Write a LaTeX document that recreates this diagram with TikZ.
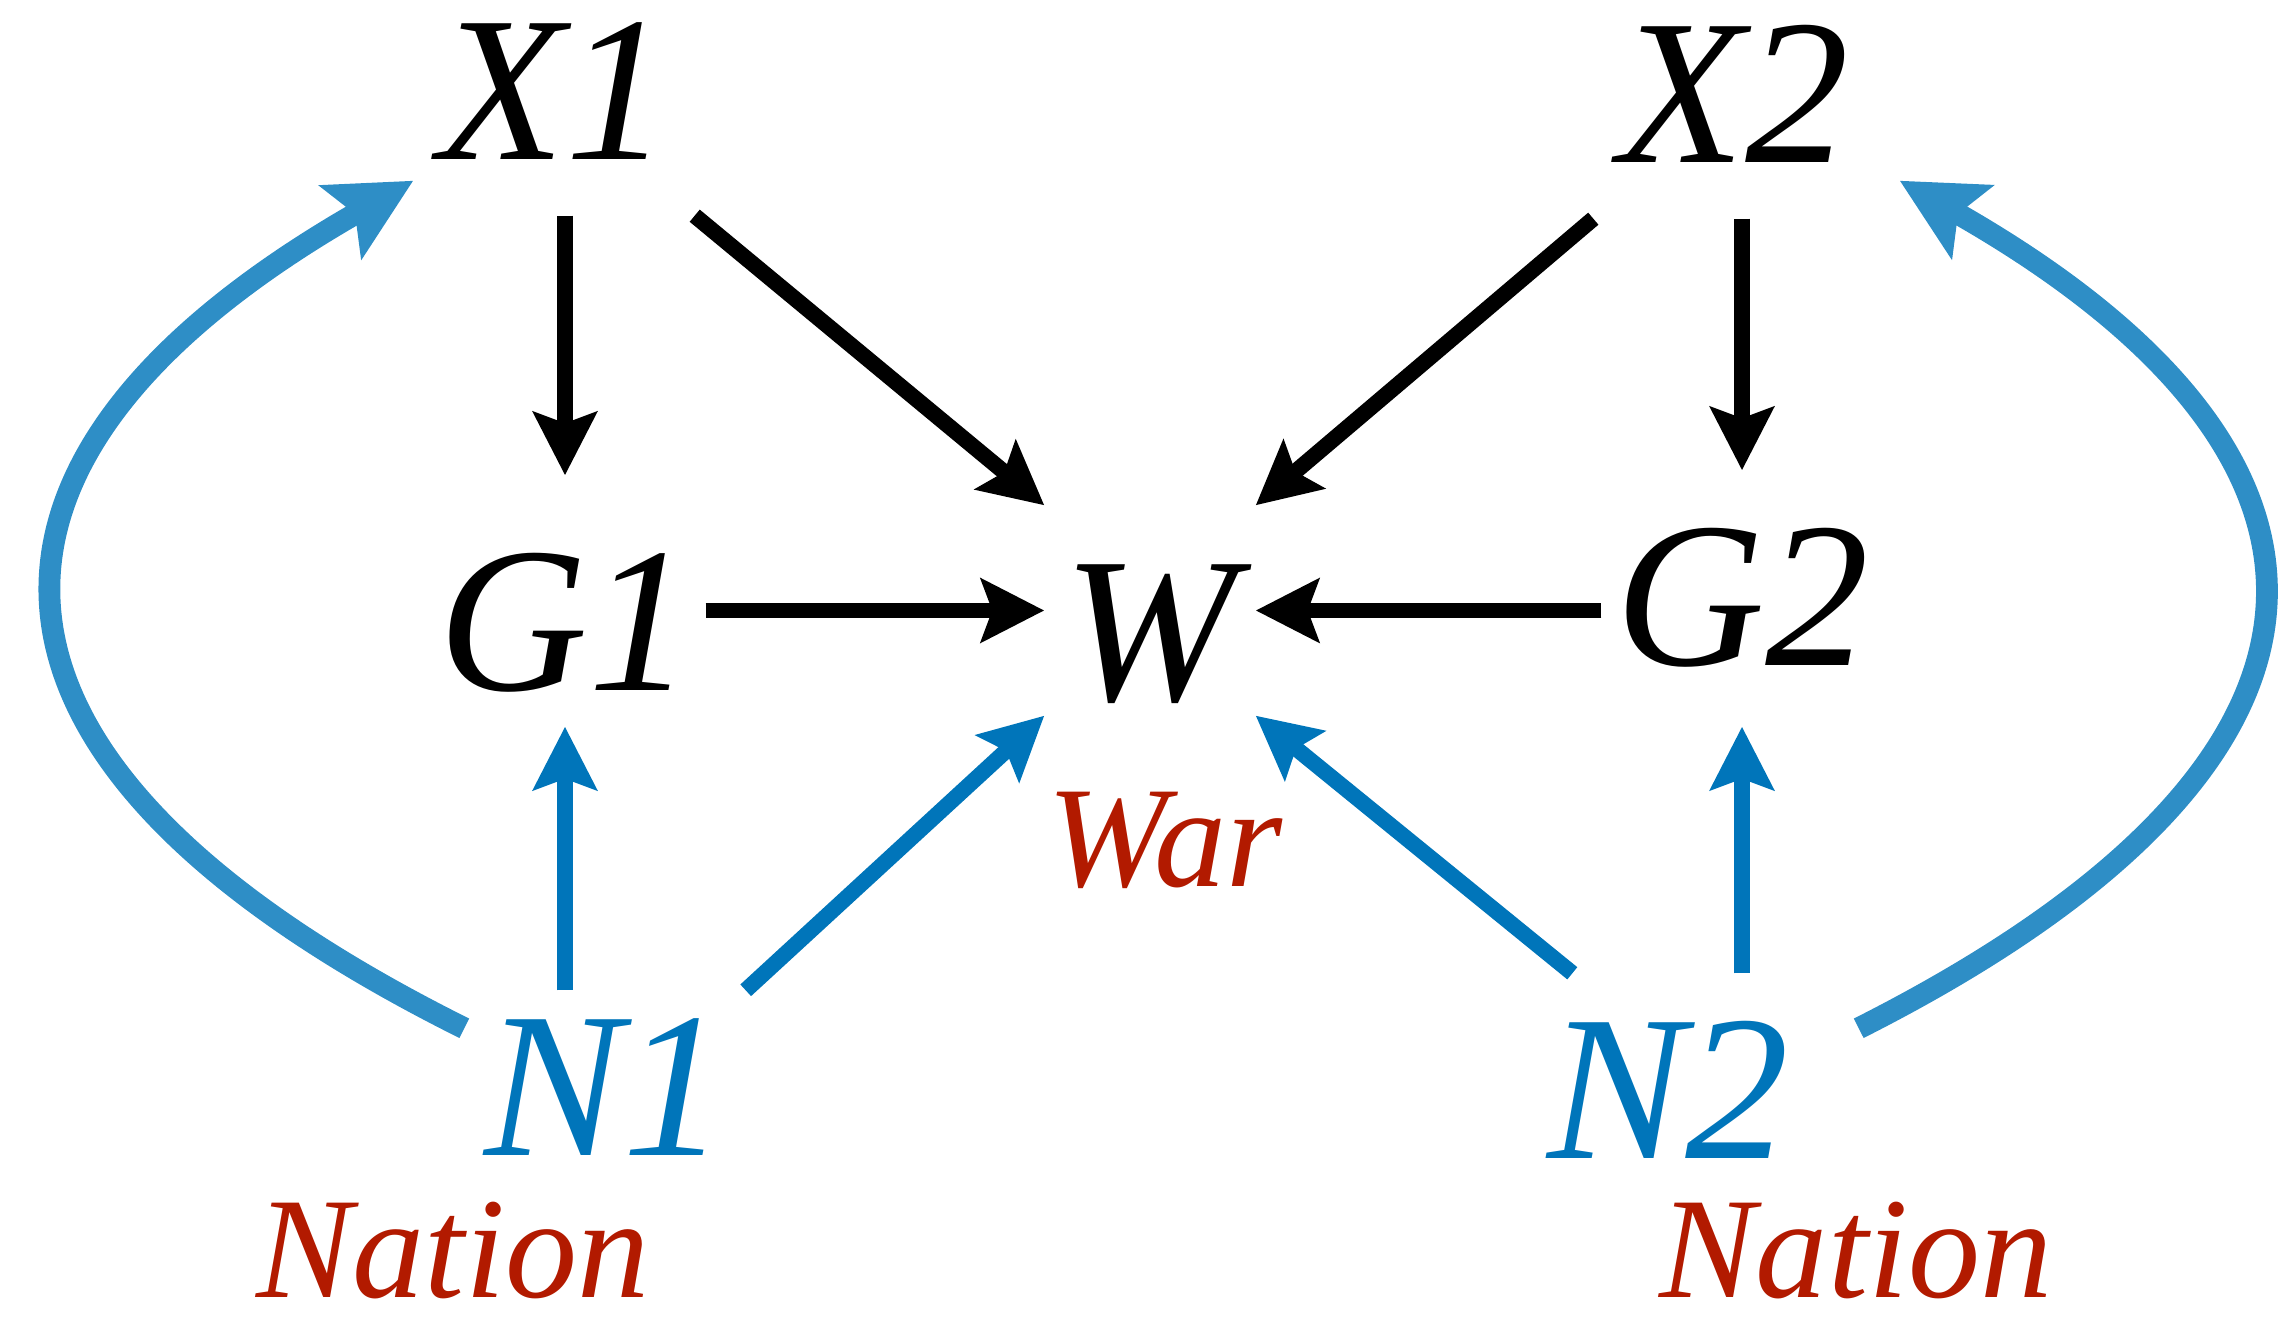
\documentclass[tikz,border=0pt]{standalone}
\usepackage{fontspec}
\setmainfont{Liberation Serif}
\usetikzlibrary{positioning,arrows.meta,calc}
\definecolor{nationblue}{RGB}{0,117,186}
\definecolor{loopblue}{RGB}{46,142,198}
\definecolor{labelred}{RGB}{178,26,0}
\tikzset{
  causearrow/.style={-{Stealth[length=6.3mm, width=6.3mm, inset=1.1mm]}, line width=4.5pt},
  nationarrow/.style={causearrow, nationblue},
  looparrow/.style={-{Stealth[length=8.3mm, width=8.3mm, inset=1.6mm]}, line width=6.2pt, loopblue},
  varnode/.style={inner sep=0pt, anchor=base, minimum width=2.8cm, text height=1.95cm, text depth=0.55cm, font=\fontsize{59}{60}\selectfont\itshape},
  namenode/.style={inner sep=0pt, anchor=base, font=\fontsize{41}{42}\selectfont\itshape, labelred}
}

\begin{document}
\begin{tikzpicture}
  \useasboundingbox (0,0) rectangle (22.8,-13.26);
  % variables
  \node[varnode] (x1) at (5.54,-1.60) {X1};
  \node[varnode] (x2) at (17.34,-1.63) {X2};
  \node[varnode, text height=2.15cm, text depth=0.35cm] (g1) at (5.65,-6.91) {G1};
  \node[varnode, minimum width=2.1cm, text depth=0.14cm] (w) at (11.50,-7.01) {W};
  \node[varnode, text depth=0.6cm] (g2) at (17.42,-6.66) {G2};
  \node[varnode, nationblue, text height=1.65cm] (n1) at (6.05,-11.56) {N1};
  \node[varnode, nationblue, text height=1.85cm] (n2) at (16.68,-11.59) {N2};
  % labels
  \node[namenode] (war) at (11.65,-8.87) {War};
  \node[namenode] (nat1) at (4.53,-12.98) {Nation};
  \node[namenode] (nat2) at (18.56,-12.98) {Nation};

  \draw[causearrow] (g1.north |- x1.south) -- (g1.north);
  \draw[causearrow] (g2.north |- x2.south) -- (g2.north);
  \draw[causearrow] (x1.south east) -- (w.north west);
  \draw[causearrow] (x2.south west) -- (w.north east);
  \draw[causearrow] (g1.east |- w.west) -- (w.west);
  \draw[causearrow] (g2.west |- w.east) -- (w.east);

  \draw[nationarrow] (g1.south |- n1.north) -- (g1.south);
  \draw[nationarrow] (g2.south |- n2.north) -- (g2.south);
  \draw[nationarrow] (n1.north east) -- (w.south west);
  \draw[nationarrow] ([xshift=4.5mm]n2.north west) -- (w.south east);

  % feedback loops
  \draw[looparrow] ([yshift=-3.8mm]n1.north west) .. controls (-0.70,-7.62) and (-0.70,-4.57) .. ([yshift=3.5mm]x1.south west);
  \draw[looparrow] ([xshift=5mm,yshift=-5.5mm]n2.north east) .. controls (23.86,-7.62) and (23.86,-4.57) .. ([xshift=2.5mm,yshift=3.8mm]x2.south east);
\end{tikzpicture}
\end{document}
